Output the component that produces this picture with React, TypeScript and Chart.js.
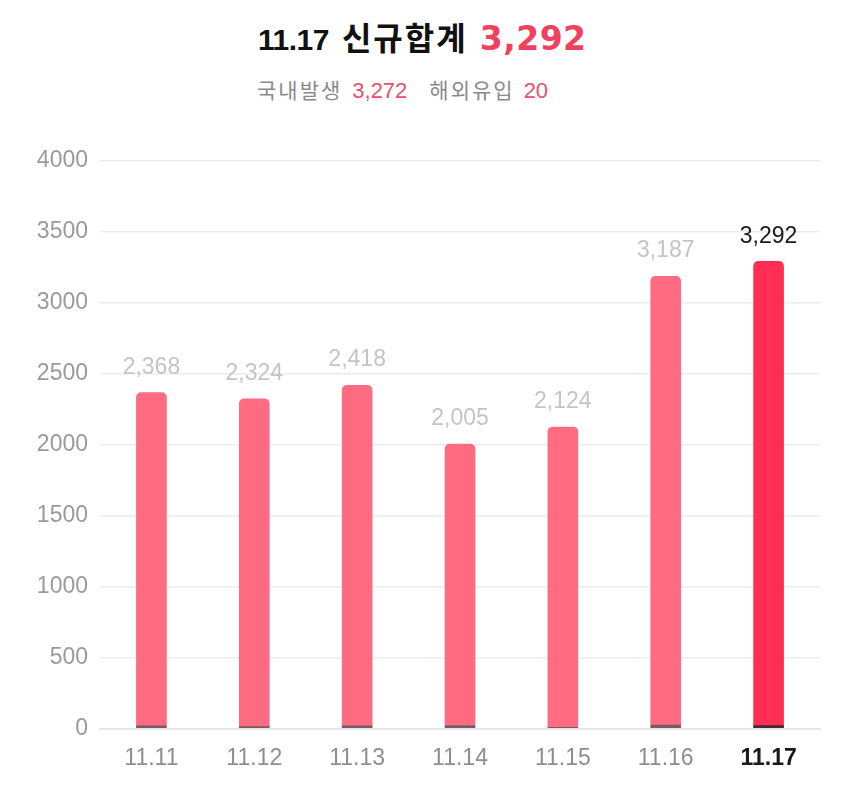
import React, { useEffect, useRef } from "react";
import { Chart, registerables } from "chart.js";

Chart.register(...registerables);

const categories = ["11.11", "11.12", "11.13", "11.14", "11.15", "11.16", "11.17"];
const totals = [2368, 2324, 2418, 2005, 2124, 3187, 3292];
const overseas = [18, 13, 19, 21, 9, 24, 20];
const domestic = [2350, 2311, 2399, 1984, 2115, 3163, 3272];
const yTicks = [0, 500, 1000, 1500, 2000, 2500, 3000, 3500, 4000];

const FONT = "'Liberation Sans', 'Noto Sans CJK KR', sans-serif";
const NUMFONT = "'DejaVu Sans', 'Liberation Sans', sans-serif";
const KFONT = "'Noto Sans CJK KR', 'Liberation Sans', sans-serif";
const last = categories.length - 1;

const fmt = (v: number) => v.toLocaleString("en-US");

const valueLabels = {
  id: "valueLabels",
  afterDatasetsDraw(chart: any) {
    const ctx = chart.ctx;
    const meta = chart.getDatasetMeta(1);
    ctx.save();
    ctx.textAlign = "center";
    ctx.textBaseline = "alphabetic";
    meta.data.forEach((el: any, i: number) => {
      const isLast = i === last;
      ctx.font = `400 23px ${FONT}`;
      ctx.fillStyle = isLast ? "#1a1a1a" : "#c4c4c4";
      ctx.fillText(fmt(totals[i]), el.x, el.y - (isLast ? 18 : 19));
    });
    ctx.restore();
  },
};

export default function App() {
  const ref = useRef<HTMLCanvasElement | null>(null);

  useEffect(() => {
    document.body.style.margin = "0";
    const c = ref.current;
    if (!c) return;
    const chart = new Chart(c, {
      type: "bar",
      data: {
        labels: categories,
        datasets: [
          {
            label: "해외유입",
            data: overseas,
            backgroundColor: categories.map((_, i) => (i === last ? "#4a2a32" : "#7a5a62")),
            barThickness: 30,
            borderSkipped: false,
            borderRadius: 0,
            stack: "s",
          },
          {
            label: "국내발생",
            data: domestic,
            backgroundColor: categories.map((_, i) => (i === last ? "#FF2E52" : "#FF6B80")),
            barThickness: 30,
            borderRadius: { topLeft: 5, topRight: 5, bottomLeft: 0, bottomRight: 0 },
            borderSkipped: false,
            stack: "s",
          },
        ],
      },
      options: {
        animation: false,
        responsive: false,
        maintainAspectRatio: false,
        layout: { padding: { left: 0, right: 30, top: 161, bottom: 0 } },
        plugins: { legend: { display: false }, tooltip: { enabled: false }, title: { display: false } },
        scales: {
          x: {
            stacked: true,
            grid: { display: false },
            border: { display: true, color: "#e6e6e6", width: 2 },
            ticks: {
              padding: 8,
              color: (ctx: any) => (ctx.index === last ? "#1a1a1a" : "#8e8e8e"),
              font: (ctx: any) => ({
                family: FONT,
                size: 23,
                weight: ctx.index === last ? "bold" : "normal",
              }),
            },
            afterFit: (s: any) => {
              s.height = 64.5;
            },
          },
          y: {
            stacked: true,
            min: 0,
            max: 4000,
            afterBuildTicks: (s: any) => {
              s.ticks = yTicks.map((v) => ({ value: v }));
            },
            grid: { color: "#ececec", lineWidth: 1.5, drawTicks: false },
            border: { display: false },
            ticks: {
              padding: 12,
              color: "#9a9a9a",
              font: { family: FONT, size: 23 },
              callback: (v: any) => String(v),
            },
            afterFit: (s: any) => {
              s.width = 100;
            },
          },
        },
      },
      plugins: [valueLabels],
    });
    return () => chart.destroy();
  }, []);

  return (
    <div style={{ position: "relative", width: 850, height: 793, background: "#fff", overflow: "hidden" }}>
      <div
        style={{
          position: "absolute",
          top: 14,
          left: 258,
          fontFamily: KFONT,
          whiteSpace: "nowrap",
          lineHeight: "44px",
          display: "flex",
          alignItems: "baseline",
        }}
      >
        <span style={{ fontSize: 30, fontWeight: 700, color: "#111", letterSpacing: -0.5, fontFamily: FONT }}>11.17</span>
        <span style={{ fontSize: 32, fontWeight: 700, color: "#111", letterSpacing: 2, marginLeft: 13 }}>신규합계</span>
        <span style={{ fontSize: 33, fontWeight: 700, color: "#F0415F", fontFamily: NUMFONT, letterSpacing: 0.5, marginLeft: 12 }}>
          {fmt(totals[last])}
        </span>
      </div>
      <div
        style={{
          position: "absolute",
          top: 74,
          left: 257,
          fontFamily: KFONT,
          whiteSpace: "nowrap",
          lineHeight: "30px",
          display: "flex",
          alignItems: "baseline",
        }}
      >
        <span style={{ color: "#8a8a8a", fontSize: 21, letterSpacing: 2 }}>국내발생</span>
        <span style={{ color: "#E8506A", fontFamily: FONT, fontSize: 22, marginLeft: 10 }}>{fmt(domestic[last])}</span>
        <span style={{ color: "#8a8a8a", fontSize: 21, letterSpacing: 2, marginLeft: 22 }}>해외유입</span>
        <span style={{ color: "#E8506A", fontFamily: FONT, fontSize: 22, marginLeft: 9 }}>{overseas[last]}</span>
      </div>
      <canvas ref={ref} width={850} height={793} style={{ position: "absolute", top: 0, left: 0 }} />
    </div>
  );
}
